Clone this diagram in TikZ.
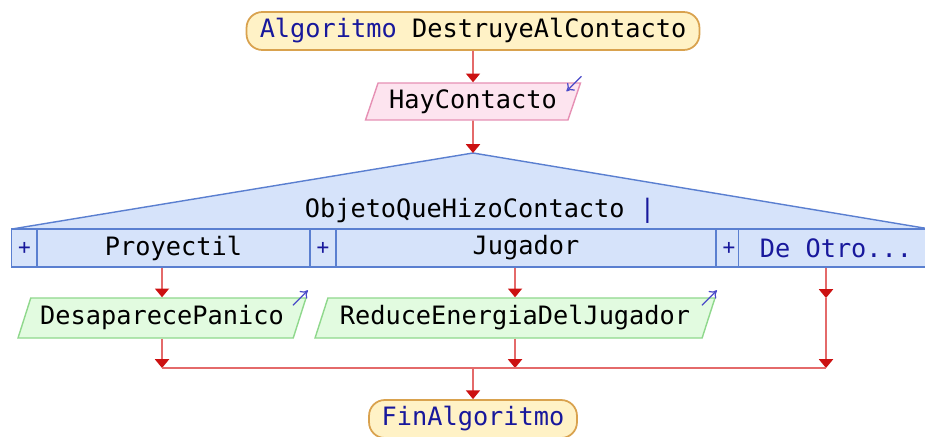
\documentclass[tikz,border=0pt]{standalone}
\usepackage{fontspec}
\setmonofont{DejaVu Sans Mono}
\usepackage{xcolor}
\usetikzlibrary{arrows.meta,positioning,calc,shapes.geometric}

\definecolor{kwblue}{HTML}{18189C}
\definecolor{pillfill}{HTML}{FFF2C6}
\definecolor{pilldraw}{HTML}{D9A24E}
\definecolor{infill}{HTML}{FDE4EF}
\definecolor{indraw}{HTML}{E690B4}
\definecolor{casefill}{HTML}{D6E3FA}
\definecolor{casedraw}{HTML}{5A7FD0}
\definecolor{outfill}{HTML}{E2FBE0}
\definecolor{outdraw}{HTML}{8FD88C}
\definecolor{flowred}{HTML}{E46A6A}
\definecolor{tipred}{HTML}{CC1111}
\definecolor{ioblue}{HTML}{4A4AC8}

\begin{document}
\begin{tikzpicture}[x=0.02cm, y=-0.02cm,
  font=\ttfamily\fontsize{14.4}{17}\selectfont,
  pill/.style={draw=pilldraw, fill=pillfill, line width=1pt, rounded corners=9pt,
    minimum height=0.76cm, inner sep=2pt},
  para/.style={trapezium, trapezium left angle=68, trapezium right angle=112,
    trapezium stretches body, inner sep=2pt, line width=0.8pt},
  inbox/.style={para, draw=indraw, fill=infill, minimum height=0.74cm},
  outbox/.style={para, draw=outdraw, fill=outfill, minimum height=0.8cm},
  cell/.style={draw=casedraw, fill=casefill, line width=0.8pt, minimum height=0.76cm,
    inner sep=0pt},
  plus/.style={cell, minimum width=0.52cm, text=kwblue,
    font=\ttfamily\fontsize{12}{14}\selectfont},
  arr/.style={draw=flowred, line width=0.9pt,
    -{Triangle[width=8pt, length=5pt, color=tipred]}},
  flow/.style={draw=flowred, line width=0.9pt},
  io/.style={draw=ioblue, line width=0.7pt, -{To[length=4pt, width=6pt]}}]
  \clip (0,0) rectangle (925,436);
  \fill[white] (0,0) rectangle (925,436);

  \node[pill, minimum width=9.06cm] (start) at (473,31)
    {{\color{kwblue}Algoritmo} DestruyeAlContacto};
  \node[inbox, minimum width=4.3cm] (hay) at (473,101.5) {HayContacto};

  \coordinate (apex) at (473,153);
  \filldraw[draw=casedraw, fill=casefill, line width=0.8pt]
    (12,229) -- (apex) -- (930,229) -- cycle;
  \node (sel) at (480,211) {ObjetoQueHizoContacto {\color{kwblue}|}};

  \node[plus] (p1) at (24.5,248) {+};
  \node[cell, minimum width=5.46cm] (proy) at (173.5,248) {Proyectil};
  \node[plus] (p2) at (323,248) {+};
  \node[cell, minimum width=7.6cm] (jug) at (526,248) {Jugador};
  \node[plus] (p3) at (729,248) {+};
  \node[cell, minimum width=3.9cm, text=kwblue] (otro) at (836,248) {De Otro...};

  \node[outbox, minimum width=5.76cm] (desap) at (162,318) {DesaparecePanico};
  \node[outbox, minimum width=8cm] (reduce) at (515,318) {ReduceEnergiaDelJugador};

  \node[pill, minimum width=4.16cm, text=kwblue] (fin) at (473,419) {FinAlgoritmo};

  \coordinate (o1) at (826,298);
  \coordinate (mc) at (473,368);
  \coordinate (m1) at (desap.south |- mc);
  \coordinate (m2) at (reduce.south |- mc);
  \coordinate (m3) at (o1 |- mc);

  \draw[arr] (start) -- (hay);
  \draw[arr] (hay) -- (apex);
  \draw[arr] (proy.south -| desap.north) -- (desap.north);
  \draw[arr] (jug.south -| reduce.north) -- (reduce.north);
  \draw[arr] (otro.south -| o1) -- (o1);
  \draw[arr] (desap.south) -- (m1);
  \draw[arr] (reduce.south) -- (m2);
  \draw[arr] (o1) -- (m3);
  \draw[flow] (m1) -- (m3);
  \draw[arr] (mc) -- (fin);

  \draw[io] ($(hay.top right corner)+(0,-6)$) -- ++(-15,15);
  \draw[io] ($(desap.top right corner)+(-14,8)$) -- ++(15,-15);
  \draw[io] ($(reduce.top right corner)+(-14,8)$) -- ++(15,-15);
\end{tikzpicture}
\end{document}
